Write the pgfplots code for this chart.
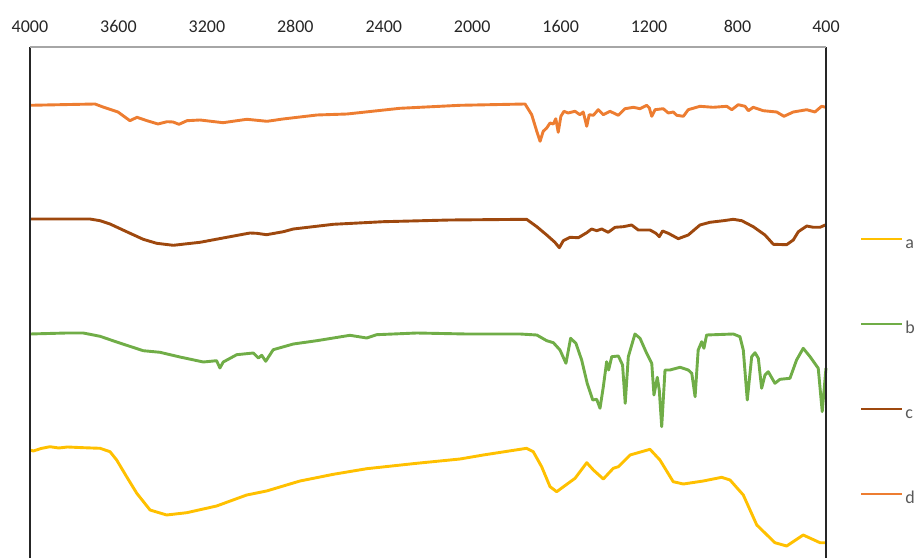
\documentclass[border=0pt]{standalone}
\usepackage{fontspec}
\setmainfont{Carlito}
\usepackage{pgfplots}
\pgfplotsset{compat=1.18}
\definecolor{ca}{HTML}{FFC000}
\definecolor{cb}{HTML}{70AD47}
\definecolor{cc}{HTML}{9E480E}
\definecolor{cd}{HTML}{ED7D31}
\definecolor{txt}{HTML}{595959}
\begin{document}
\begin{tikzpicture}
\begin{axis}[
  scale only axis, width=398pt, height=255.5pt,
  x dir=reverse, xmin=400, xmax=4000, ymin=0, ymax=511,
  xtick={400,800,...,4000}, ytick=\empty,
  xticklabel pos=upper,
  separate axis lines, axis line style={draw=none},
  major tick length=0pt, tick style={draw=none},
  clip=false,
  xticklabel style={font=\fontsize{9}{10.8}\selectfont, text=black!85, yshift=3.6pt},
  /pgf/number format/.cd, 1000 sep={}, assume math mode=true,
  /pgfplots/.cd,
  legend style={at={(axis cs:250,322)}, anchor=north west, draw=none, fill=none,
    font=\fontsize{9}{10.8}\selectfont, text=txt, row sep=35.5pt, inner sep=0pt,
    nodes={text height=5pt, text depth=0pt, inner sep=1pt}},
  legend cell align=left,
  legend image code/.code={\draw[#1] (0pt,2.2pt) -- (20.5pt,2.2pt);},
  every axis plot/.append style={line width=1.45pt, line join=round},
]
\addplot[ca] coordinates {
(4000,108) (3985,107) (3950,109.5) (3910,111.3) (3870,110) (3830,111) (3759,110.3) (3683,109.7) (3638,106.3) (3608,98)
(3563,81.3) (3517,64.7) (3457,48) (3382,43) (3291,45.3) (3156,52) (3020,63) (2930,67)
(2779,77) (2628,83.7) (2477,89.3) (2251,94.7) (2055,99) (1950,103) (1754,109.7)
(1724,106.3) (1686,91.3) (1648,71.3) (1618,66.3) (1535,79.7) (1482,95.3) (1452,88)
(1407,79) (1362,89.7) (1339,91.3) (1286,103) (1196,108.7) (1151,98) (1091,76.3)
(1045,74) (955,77) (872,80.7) (834,78) (774,63) (713,33) (631,15.3) (578,12)
(503,23) (427,15.3) (400,15.3)
};
\addlegendentry{a}
\addplot[cb] coordinates {
(4000,224) (3834,225) (3759,225) (3683,221.7) (3608,216) (3488,207.3) (3412,205.7)
(3322,201) (3216,196) (3156,197.3) (3141,190) (3126,196) (3065,203.3) (2990,205)
(2967,200) (2952,202.7) (2934,196.7) (2900,208.3) (2809,214) (2703,217.3) (2553,222.7)
(2477,220) (2432,223.3) (2251,225) (2025,224) (1784,224) (1708,223) (1663,217.3)
(1633,215.3) (1603,208) (1576,194.7) (1555,219.7) (1531,214.7) (1505,198) (1480,174.7)
(1455,158) (1437,158.7) (1422,149.7) (1407,171.3) (1392,196.3) (1383,188) (1369,201.3)
(1339,202) (1320,193) (1308,154.7) (1294,201.3) (1264,224) (1241,219.7) (1211,204.7)
(1188,194.7) (1178,163) (1163,180.7) (1154,168) (1143,131.3) (1128,188) (1106,188)
(1060,190.7) (1023,188) (1007,184.7) (992,161.3) (978,208) (962,216.3) (952,209.7)
(940,223) (819,224) (789,221.3) (774,208) (756,158) (736,201.3) (721,205.3) (706,199.7)
(691,169.7) (676,183) (661,186.3) (631,174.7) (608,178.7) (563,179.7) (533,198)
(503,209.7) (472,201.3) (435,189.7) (417,146.3) (400,190)
};
\addlegendentry{b}
\addplot[cc] coordinates {
(4000,339) (3729,339) (3683,337.3) (3638,334) (3563,326.3) (3488,318.7) (3427,314.7)
(3352,312.7) (3231,315.7) (3110,320.7) (3005,325) (2975,324.7) (2930,323.3) (2854,326.3)
(2809,329) (2628,333.7) (2402,336.3) (2101,338) (1754,338.7) (1708,331.3) (1663,323)
(1626,315.7) (1606,310.3) (1588,317.3) (1558,320.7) (1520,320.3) (1482,325.3) (1460,329)
(1437,327.3) (1414,329) (1385,325.7) (1354,330.7) (1317,331.3) (1279,333) (1249,328)
(1196,328) (1169,324.7) (1154,321.3) (1139,327) (1113,324.7) (1068,319.3) (1023,323)
(970,333) (925,335.7) (864,337.3) (819,338.7) (781,337.3) (729,331.3) (676,323)
(638,313.7) (578,313.3) (548,318) (525,326.3) (487,332) (457,330.7) (427,330.7) (400,333.3)
};
\addlegendentry{c}
\addplot[cd] coordinates {
(4000,452.7) (3706,454) (3670,451) (3602,446) (3548,437.3) (3516,440.7) (3471,437.3)
(3421,434) (3380,436.3) (3353,436) (3326,433.7) (3290,437.3) (3231,438) (3127,435.3)
(3019,438.7) (2928,436.7) (2856,439) (2702,443) (2566,444) (2327,449.7) (2055,452.7)
(1761,454) (1731,443.3) (1708,426.7) (1693,416.7) (1679,426.7) (1663,430) (1648,435)
(1633,434) (1622,439.3) (1611,425.7) (1599,441.7) (1585,446.7) (1566,445) (1535,446.7)
(1513,443.3) (1498,446) (1482,431.7) (1471,443.3) (1452,442.7) (1430,448.3) (1407,443.3)
(1377,446.7) (1339,442.7) (1309,449.3) (1271,450.7) (1241,449.3) (1211,452.7) (1199,450)
(1188,441.7) (1173,448.3) (1136,449.3) (1113,445) (1091,446) (1075,442.7) (1045,441.7)
(1023,448.3) (970,451.7) (910,450.7) (849,451.7) (826,448.3) (797,453.3) (766,451.7)
(751,447.3) (729,450.7) (684,447.3) (623,446) (590,441.7) (548,446) (487,448.3)
(450,446) (420,451.7) (400,450.7)
};
\addlegendentry{d}
\draw[black!85, line width=1pt] (axis cs:4000,0) -- (axis cs:4000,511);
\draw[black!85, line width=1pt] (axis cs:400,0) -- (axis cs:400,511);
\draw[black!35, line width=0.6pt] (axis cs:4000,511) -- (axis cs:400,511);
\coordinate (tl) at (axis cs:4135.7,558);
\coordinate (br) at (axis cs:-11.6,0);
\end{axis}
\pgfresetboundingbox
\path[use as bounding box] (tl) rectangle (br);
\end{tikzpicture}
\end{document}
